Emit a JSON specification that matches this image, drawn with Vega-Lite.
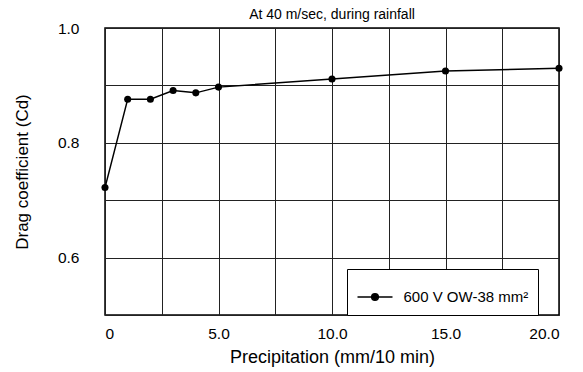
{
  "$schema": "https://vega.github.io/schema/vega-lite/v6.json",
  "width": 454,
  "height": 287,
  "autosize": {"type": "none"},
  "padding": {"left": 105, "top": 28, "right": 24, "bottom": 57},
  "background": "white",
  "title": {"text": "At 40 m/sec, during rainfall", "fontSize": 14, "font": "Liberation Sans", "fontWeight": "normal", "anchor": "middle", "offset": -1, "color": "black"},
  "config": {
    "font": "Liberation Sans",
    "view": {"stroke": "black", "strokeWidth": 1.5},
    "axis": {"gridColor": "#222", "gridOpacity": 1, "gridWidth": 1, "domain": false, "ticks": false, "labelColor": "black", "titleColor": "black", "labelFontSize": 15.5, "titleFontWeight": "normal"}
  },
  "data": {"values": [
    {"x": 0, "y": 0.722, "s": "600 V OW-38 mm²"},
    {"x": 1, "y": 0.876, "s": "600 V OW-38 mm²"},
    {"x": 2, "y": 0.876, "s": "600 V OW-38 mm²"},
    {"x": 3, "y": 0.891, "s": "600 V OW-38 mm²"},
    {"x": 4, "y": 0.887, "s": "600 V OW-38 mm²"},
    {"x": 5, "y": 0.897, "s": "600 V OW-38 mm²"},
    {"x": 10, "y": 0.911, "s": "600 V OW-38 mm²"},
    {"x": 15, "y": 0.925, "s": "600 V OW-38 mm²"},
    {"x": 20, "y": 0.93, "s": "600 V OW-38 mm²"}
  ]},
  "encoding": {
    "x": {"field": "x", "type": "quantitative", "scale": {"domain": [0, 20], "nice": false},
      "axis": {"values": [0, 2.5, 5, 7.5, 10, 12.5, 15, 17.5, 20], "labelExpr": "datum.value == 0 ? '0' : (datum.value % 5 == 0 ? format(datum.value, '.1f') : '')", "labelPadding": 11, "title": "Precipitation (mm/10 min)", "titleFontSize": 18, "titlePadding": 7}},
    "y": {"field": "y", "type": "quantitative", "scale": {"domain": [0.5, 1.0], "nice": false, "zero": false},
      "axis": {"values": [0.5, 0.6, 0.7, 0.8, 0.9, 1.0], "labelExpr": "(abs(datum.value - 0.6) < 0.001 || abs(datum.value - 0.8) < 0.001 || abs(datum.value - 1.0) < 0.001) ? format(datum.value, '.1f') : ''", "labelPadding": 26, "title": "Drag coefficient (Cd)", "titleFontSize": 17, "titlePadding": 26}}
  },
  "layer": [
    {"mark": {"type": "line", "strokeWidth": 1.5, "color": "black"},
     "encoding": {"color": {"field": "s", "type": "nominal", "scale": {"range": ["black"]},
       "legend": {"title": null, "orient": "none", "legendX": 242, "legendY": 241, "strokeColor": "black", "fillColor": "white", "padding": 9.5, "labelFontSize": 15, "labelColor": "black", "symbolType": "M-1,0H1M-0.19,0A0.19,0.19,0,1,1,0.19,0A0.19,0.19,0,1,1,-0.19,0Z", "symbolSize": 1225, "symbolStrokeWidth": 1.5, "symbolFillColor": "black", "symbolStrokeColor": "black", "labelOffset": 10}}}},
    {"mark": {"type": "point", "filled": true, "size": 50, "color": "black", "opacity": 1}}
  ]
}
